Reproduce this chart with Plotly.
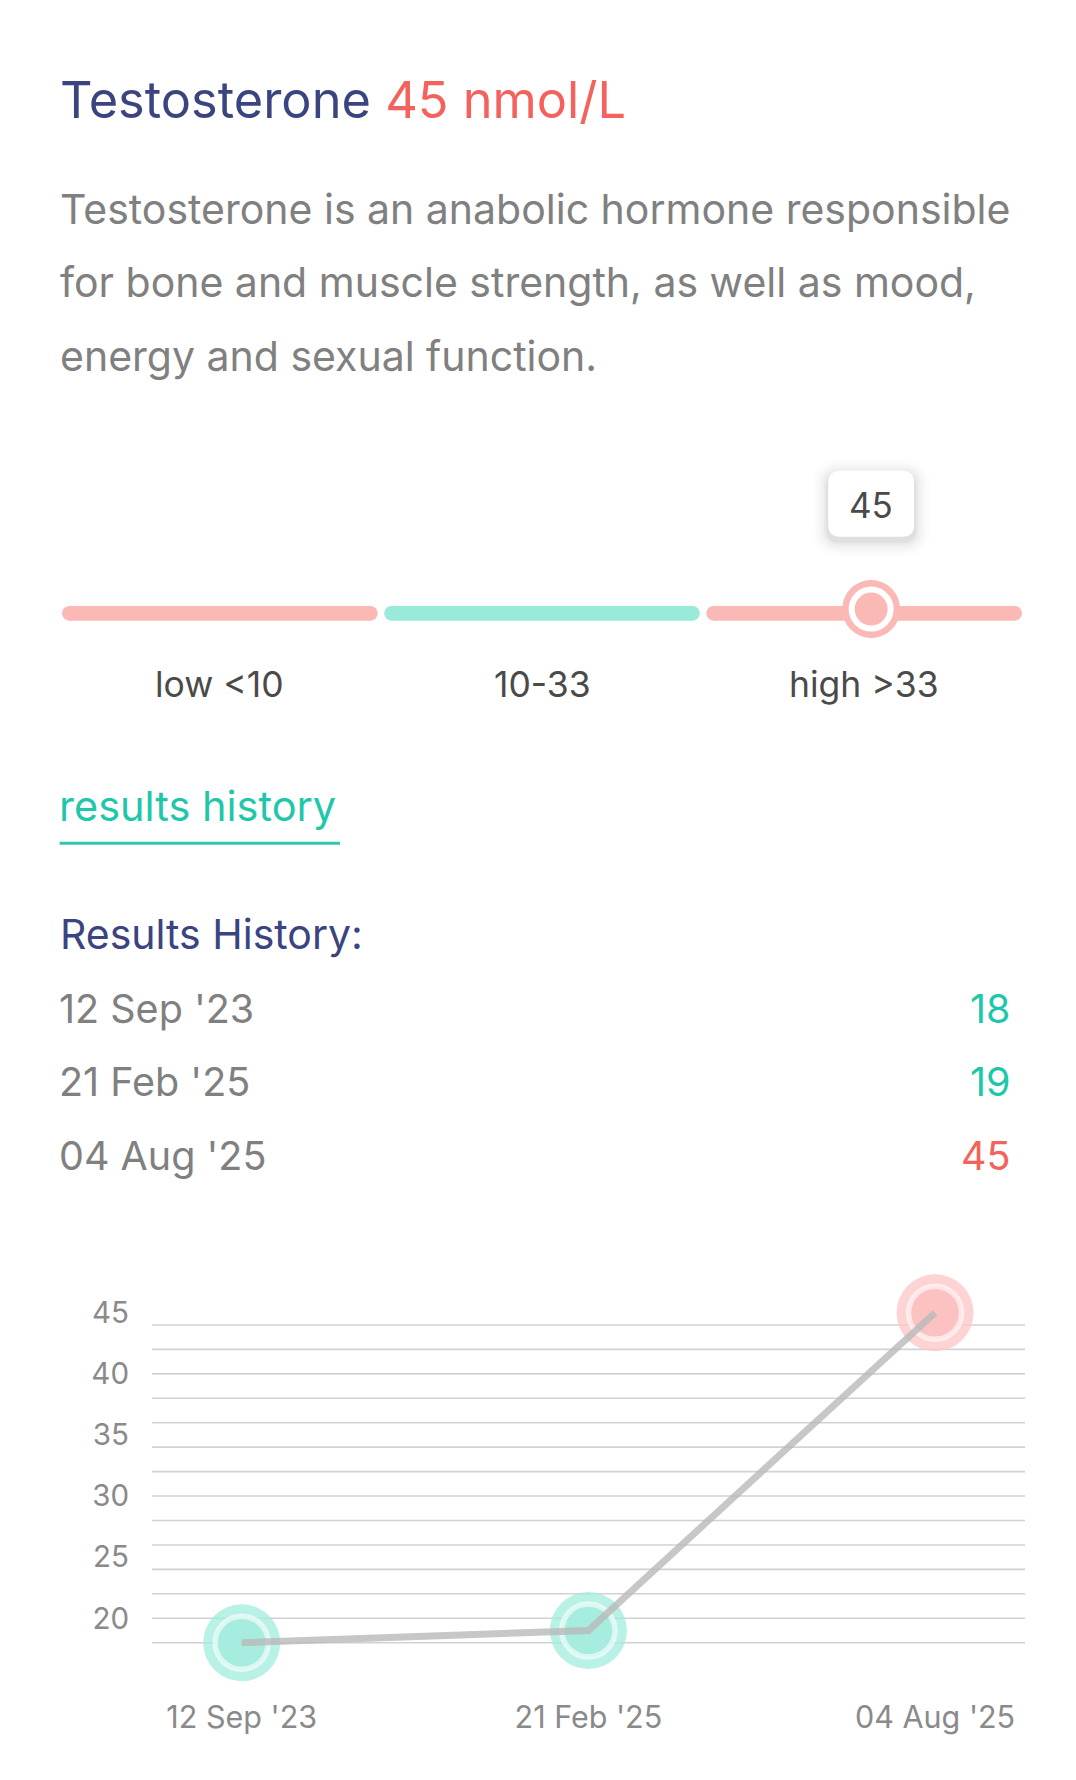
import plotly.graph_objects as go

# ---------------- data ----------------
MARKER_NAME = "Testosterone"
CURRENT_VALUE = 45
UNIT = "nmol/L"
DESCRIPTION_LINES = [
    "Testosterone is an anabolic hormone responsible",
    "for bone and muscle strength, as well as mood,",
    "energy and sexual function.",
]
RANGE_LABELS = ["low <10", "10-33", "high >33"]
RANGE_BOUNDS = [0, 10, 33, 56]
RANGE_STATUS = ["out", "in", "out"]

HISTORY_DATES = ["12 Sep '23", "21 Feb '25", "04 Aug '25"]
HISTORY_VALUES = [18, 19, 45]

Y_TICKS = [20, 25, 30, 35, 40, 45]
GRID_VALUES = [18, 20, 22, 24, 26, 28, 30, 32, 34, 36, 38, 40, 42, 44]

# ---------------- style ----------------
W, H = 1076, 1780
OX, OY = 8, 8  # page body margin
FONT = "Inter"
NAVY = "#3a4480"
RED = "#f4625d"
TEAL_TXT = "#1fc7aa"
GRAY = "#808080"
DARK = "#4a4a4a"
TICK_GRAY = "#8a8a8a"
PINK_BAR = "#fbb9b6"
TEAL_BAR = "#9aeadb"


def py(p):
    return 1 - (p - OY) / H


def px(p):
    return (p - OX) / W


def status(v):
    for i in range(len(RANGE_BOUNDS) - 1):
        if RANGE_BOUNDS[i] <= v < RANGE_BOUNDS[i + 1]:
            return RANGE_STATUS[i]
    return "out"


def slider_pos(v):
    n = len(RANGE_BOUNDS) - 1
    for i in range(n):
        lo, hi = RANGE_BOUNDS[i], RANGE_BOUNDS[i + 1]
        if v < hi or i == n - 1:
            return i + (v - lo) / (hi - lo)


fig = go.Figure()

# ---------------- slider ----------------
NSEG = len(RANGE_LABELS)
GAP = 0.02
SL_X0, SL_X1 = 62.0, 1022.0
x2_range = [GAP / 2, NSEG - GAP / 2]
ppu = (SL_X1 - SL_X0) / (x2_range[1] - x2_range[0])
BAR_PX = 14.7
r_u = (BAR_PX / 2) / ppu

for i in range(NSEG):
    s = i + GAP / 2 + r_u
    e = i + 1 - GAP / 2 - r_u
    col = TEAL_BAR if RANGE_STATUS[i] == "in" else PINK_BAR
    fig.add_trace(go.Scatter(
        x=[s, e], y=[0, 0], mode="lines+markers",
        line=dict(color=col, width=BAR_PX),
        marker=dict(size=BAR_PX, color=col, line=dict(width=0)),
        xaxis="x2", yaxis="y2", hoverinfo="skip", cliponaxis=False,
    ))

cur_pos = slider_pos(CURRENT_VALUE)
cur_col = PINK_BAR if status(CURRENT_VALUE) == "out" else TEAL_BAR
fig.add_trace(go.Scatter(
    x=[cur_pos], y=[0.085], mode="markers",
    marker=dict(size=58, color=cur_col, line=dict(width=0)),
    xaxis="x2", yaxis="y2", hoverinfo="skip", cliponaxis=False,
))
fig.add_trace(go.Scatter(
    x=[cur_pos], y=[0.085], mode="markers",
    marker=dict(size=39, color=cur_col, line=dict(width=6, color="white")),
    xaxis="x2", yaxis="y2", hoverinfo="skip", cliponaxis=False,
))


def rrect(hw, hh, r, dy=0):
    return (f"M {-hw + r},{-hh + dy} L {hw - r},{-hh + dy} Q {hw},{-hh + dy} {hw},{-hh + r + dy} "
            f"L {hw},{hh - r + dy} Q {hw},{hh + dy} {hw - r},{hh + dy} "
            f"L {-hw + r},{hh + dy} Q {-hw},{hh + dy} {-hw},{hh - r + dy} "
            f"L {-hw},{-hh + r + dy} Q {-hw},{-hh + dy} {-hw + r},{-hh + dy} Z")


BUB_Y = py(503.7)
shapes = []
for k, a in [(16, 0.008), (13, 0.012), (10, 0.016), (7, 0.022), (4, 0.03), (2, 0.035)]:
    shapes.append(dict(
        type="path", xref="x2", yref="paper", xsizemode="pixel", ysizemode="pixel",
        xanchor=cur_pos, yanchor=BUB_Y, path=rrect(43 + k, 33 + k, 12 + k, dy=-4),
        fillcolor=f"rgba(0,0,0,{a})", line=dict(width=0), layer="above",
    ))
shapes.append(dict(
    type="path", xref="x2", yref="paper", xsizemode="pixel", ysizemode="pixel",
    xanchor=cur_pos, yanchor=BUB_Y, path=rrect(43, 33, 12),
    fillcolor="white", line=dict(width=0), layer="above",
))

annotations = []
annotations.append(dict(
    x=cur_pos, y=py(505), xref="x2", yref="paper", text=str(CURRENT_VALUE),
    showarrow=False, xanchor="center", yanchor="middle",
    font=dict(family=FONT, size=35, color=DARK),
))
for i, lab in enumerate(RANGE_LABELS):
    annotations.append(dict(
        x=i + 0.5, y=py(684.5), xref="x2", yref="paper", text=lab,
        showarrow=False, xanchor="center", yanchor="middle",
        font=dict(family=FONT, size=35.5, color=DARK),
    ))

# ---------------- header text ----------------
val_col = RED if status(CURRENT_VALUE) == "out" else TEAL_TXT
annotations.append(dict(
    x=px(58), y=py(99.2), xref="paper", yref="paper",
    text=f"<span style='color:{NAVY}'>{MARKER_NAME}</span> "
         f"<span style='color:{val_col}'>{CURRENT_VALUE} {UNIT}</span>",
    showarrow=False, xanchor="left", yanchor="middle",
    font=dict(family=FONT, size=50.5, color=NAVY),
))
for j, line in enumerate(DESCRIPTION_LINES):
    annotations.append(dict(
        x=px(58), y=py(208.8 + 73.65 * j), xref="paper", yref="paper", text=line,
        showarrow=False, xanchor="left", yanchor="middle",
        font=dict(family=FONT, size=41, color=GRAY),
    ))

# tab
annotations.append(dict(
    x=px(57), y=py(805.8), xref="paper", yref="paper", text="results history",
    showarrow=False, xanchor="left", yanchor="middle",
    font=dict(family=FONT, size=41.5, color=TEAL_TXT),
))
shapes.append(dict(type="line", xref="paper", yref="paper",
                   x0=px(59.6), x1=px(340), y0=py(843.3), y1=py(843.3),
                   line=dict(color="#2cc9b0", width=3)))

annotations.append(dict(
    x=px(58), y=py(934), xref="paper", yref="paper", text="Results History:",
    showarrow=False, xanchor="left", yanchor="middle",
    font=dict(family=FONT, size=41, color=NAVY),
))
for j, (d, v) in enumerate(zip(HISTORY_DATES, HISTORY_VALUES)):
    yy = py(1008.5 + 73.65 * j)
    annotations.append(dict(
        x=px(57), y=yy, xref="paper", yref="paper", text=d,
        showarrow=False, xanchor="left", yanchor="middle",
        font=dict(family=FONT, size=39.5, color=GRAY),
    ))
    annotations.append(dict(
        x=px(1013), y=yy, xref="paper", yref="paper", text=str(v),
        showarrow=False, xanchor="right", yanchor="middle",
        font=dict(family=FONT, size=39.5, color=RED if status(v) == "out" else TEAL_TXT),
    ))

# ---------------- history chart ----------------
xs = list(range(len(HISTORY_VALUES)))
halo_cols = ["rgba(253,200,200,0.8)" if status(v) == "out" else "rgba(160,236,222,0.75)"
             for v in HISTORY_VALUES]
core_cols = ["#fcc1c1" if status(v) == "out" else "#a6ecdf" for v in HISTORY_VALUES]
ring_cols = ["rgba(255,255,255,0.6)"] * len(HISTORY_VALUES)

fig.add_trace(go.Scatter(
    x=xs, y=HISTORY_VALUES, mode="markers",
    marker=dict(size=77, color=halo_cols, line=dict(width=0)),
    hoverinfo="skip", cliponaxis=False,
))
fig.add_trace(go.Scatter(
    x=xs, y=HISTORY_VALUES, mode="markers",
    marker=dict(size=53, color=core_cols, line=dict(width=5.5, color=ring_cols)),
    hoverinfo="skip", cliponaxis=False,
))
fig.add_trace(go.Scatter(
    x=xs, y=HISTORY_VALUES, mode="lines",
    line=dict(color="rgba(185,185,185,0.8)", width=7),
    hoverinfo="skip", cliponaxis=False,
))

for g in GRID_VALUES:
    shapes.append(dict(type="line", xref="x domain", yref="y", x0=0, x1=1, y0=g, y1=g,
                       line=dict(color="#d2d2d2", width=1.6), layer="below"))

fig.update_layout(
    width=W, height=H,
    margin=dict(l=0, r=0, t=0, b=0),
    paper_bgcolor="white", plot_bgcolor="white",
    showlegend=False,
    font=dict(family=FONT),
    xaxis=dict(
        domain=[px(152), px(1025)], range=[-0.2588, 2.2594],
        tickmode="array", tickvals=xs, ticktext=HISTORY_DATES,
        showgrid=False, zeroline=False, showline=False, ticks="",
        tickfont=dict(family=FONT, size=30.5, color=TICK_GRAY),
        ticklabelstandoff=6, fixedrange=True,
    ),
    yaxis=dict(
        domain=[py(1690), py(1262)], range=[14.13, 49.15],
        tickmode="array", tickvals=Y_TICKS,
        showgrid=False, zeroline=False, showline=False, ticks="",
        tickfont=dict(family=FONT, size=29.5, color=TICK_GRAY),
        ticklabelstandoff=22, fixedrange=True,
    ),
    xaxis2=dict(domain=[px(SL_X0), px(SL_X1)], range=x2_range, visible=False,
                anchor="y2", fixedrange=True),
    yaxis2=dict(domain=[py(663.3), py(563.3)], range=[-1, 1], visible=False,
                anchor="x2", fixedrange=True),
    shapes=shapes,
    annotations=annotations,
)

fig.write_html("out.html")
